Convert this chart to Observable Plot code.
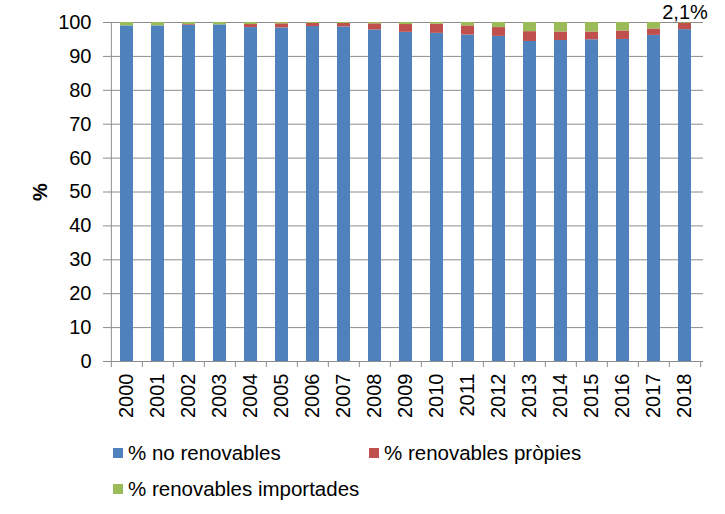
<!DOCTYPE html>
<html>
<head>
<meta charset="utf-8">
<script src="https://cdn.jsdelivr.net/npm/d3@7"></script>
<script src="https://cdn.jsdelivr.net/npm/@observablehq/plot@0.6"></script>
<style>
  body { margin: 0; background: #fff; font-family: "Liberation Sans", Arial, sans-serif; }
  #wrap { position: relative; width: 725px; height: 514px; }
  #chart svg { display: block; }
  #chart g[aria-label="y-axis label"] text { font-weight: bold; }
  .leg { position: absolute; display: flex; align-items: center; font-size: 20.5px; color: #000; white-space: nowrap; }
  .sw { width: 10px; height: 10px; margin-right: 5px; }
</style>
</head>
<body>
<div id="wrap">
  <div id="chart"></div>
  <div id="legend"></div>
</div>
<script>
const years = ["2000","2001","2002","2003","2004","2005","2006","2007","2008","2009","2010","2011","2012","2013","2014","2015","2016","2017","2018"];
const noRenovables = [99.0, 99.0, 99.2, 99.3, 98.5, 98.4, 98.8, 98.7, 97.8, 97.1, 96.8, 96.3, 95.9, 94.4, 94.7, 94.9, 95.0, 96.2, 97.9];
const renovablesPropies = [0.0, 0.0, 0.2, 0.0, 0.9, 1.2, 0.9, 1.0, 1.8, 2.3, 2.7, 2.7, 2.6, 2.9, 2.5, 2.3, 2.5, 1.9, 1.9];
const renovablesImportades = [1.0, 1.0, 0.6, 0.7, 0.6, 0.4, 0.3, 0.3, 0.4, 0.6, 0.5, 1.0, 1.5, 2.7, 2.8, 2.8, 2.5, 1.9, 0.2];
const seriesNames = ["% no renovables", "% renovables pròpies", "% renovables importades"];
const seriesColors = ["#4F81BD", "#C0504D", "#9BBB59"];
const yTicks = [0, 10, 20, 30, 40, 50, 60, 70, 80, 90, 100];
const annotation = [{year: "2018", value: 100, label: "2,1%"}];

const seriesValues = [noRenovables, renovablesPropies, renovablesImportades];
const table = [];
years.forEach((y, i) => {
  seriesValues.forEach((vals, s) => table.push({year: y, series: seriesNames[s], value: vals[i]}));
});

const W = 725, H = 425, mL = 108, mR = 22, mT = 22, mB = 64;
const step = (W - mL - mR) / years.length;
const grid = "#8c8c8c";

const chart = Plot.plot({
  width: W, height: H,
  marginLeft: mL, marginRight: mR, marginTop: mT, marginBottom: mB,
  style: {fontFamily: "'Liberation Sans', Arial, sans-serif", fontSize: "20px", color: "#000", background: "#fff", overflow: "visible"},
  x: {domain: years, paddingInner: 0.58, paddingOuter: 0.29, axis: null},
  y: {domain: [0, 100], axis: null},
  color: {domain: seriesNames, range: seriesColors},
  marks: [
    Plot.gridY(yTicks, {stroke: grid, strokeOpacity: 1}),
    Plot.barY(table, {x: "year", y: "value", fill: "series", order: seriesNames}),
    Plot.ruleY([0], {stroke: grid}),
    Plot.ruleX([years[0]], {dx: -step / 2, y1: 0, y2: 100, stroke: grid}),
    Plot.axisY({ticks: yTicks, tickSize: 5, tickPadding: 12, stroke: grid, label: "%", labelAnchor: "center", labelOffset: 76, labelArrow: false, fontSize: 20}),
    Plot.axisX({ticks: years, tickSize: 6, tickFormat: () => "", dx: -step / 2, stroke: grid, label: null}),
    Plot.axisX({ticks: [years[years.length - 1]], tickSize: 6, tickFormat: () => "", dx: step / 2, stroke: grid, label: null}),
    Plot.axisX({ticks: years, tickSize: 0, tickPadding: 12, tickRotate: -90, label: null, fontSize: 20}),
    Plot.text(annotation, {x: "year", y: "value", text: "label", dy: -10, fontSize: 20, fill: "#000"})
  ]
});
document.getElementById("chart").appendChild(chart);

const legendPos = [{left: 113, top: 441}, {left: 369, top: 441}, {left: 113, top: 477}];
const legend = document.getElementById("legend");
seriesNames.forEach((name, i) => {
  const item = document.createElement("div");
  item.className = "leg";
  item.style.left = legendPos[i].left + "px";
  item.style.top = legendPos[i].top + "px";
  const sw = document.createElement("span");
  sw.className = "sw";
  sw.style.background = seriesColors[i];
  const t = document.createElement("span");
  t.textContent = name;
  item.appendChild(sw);
  item.appendChild(t);
  legend.appendChild(item);
});
</script>
</body>
</html>
